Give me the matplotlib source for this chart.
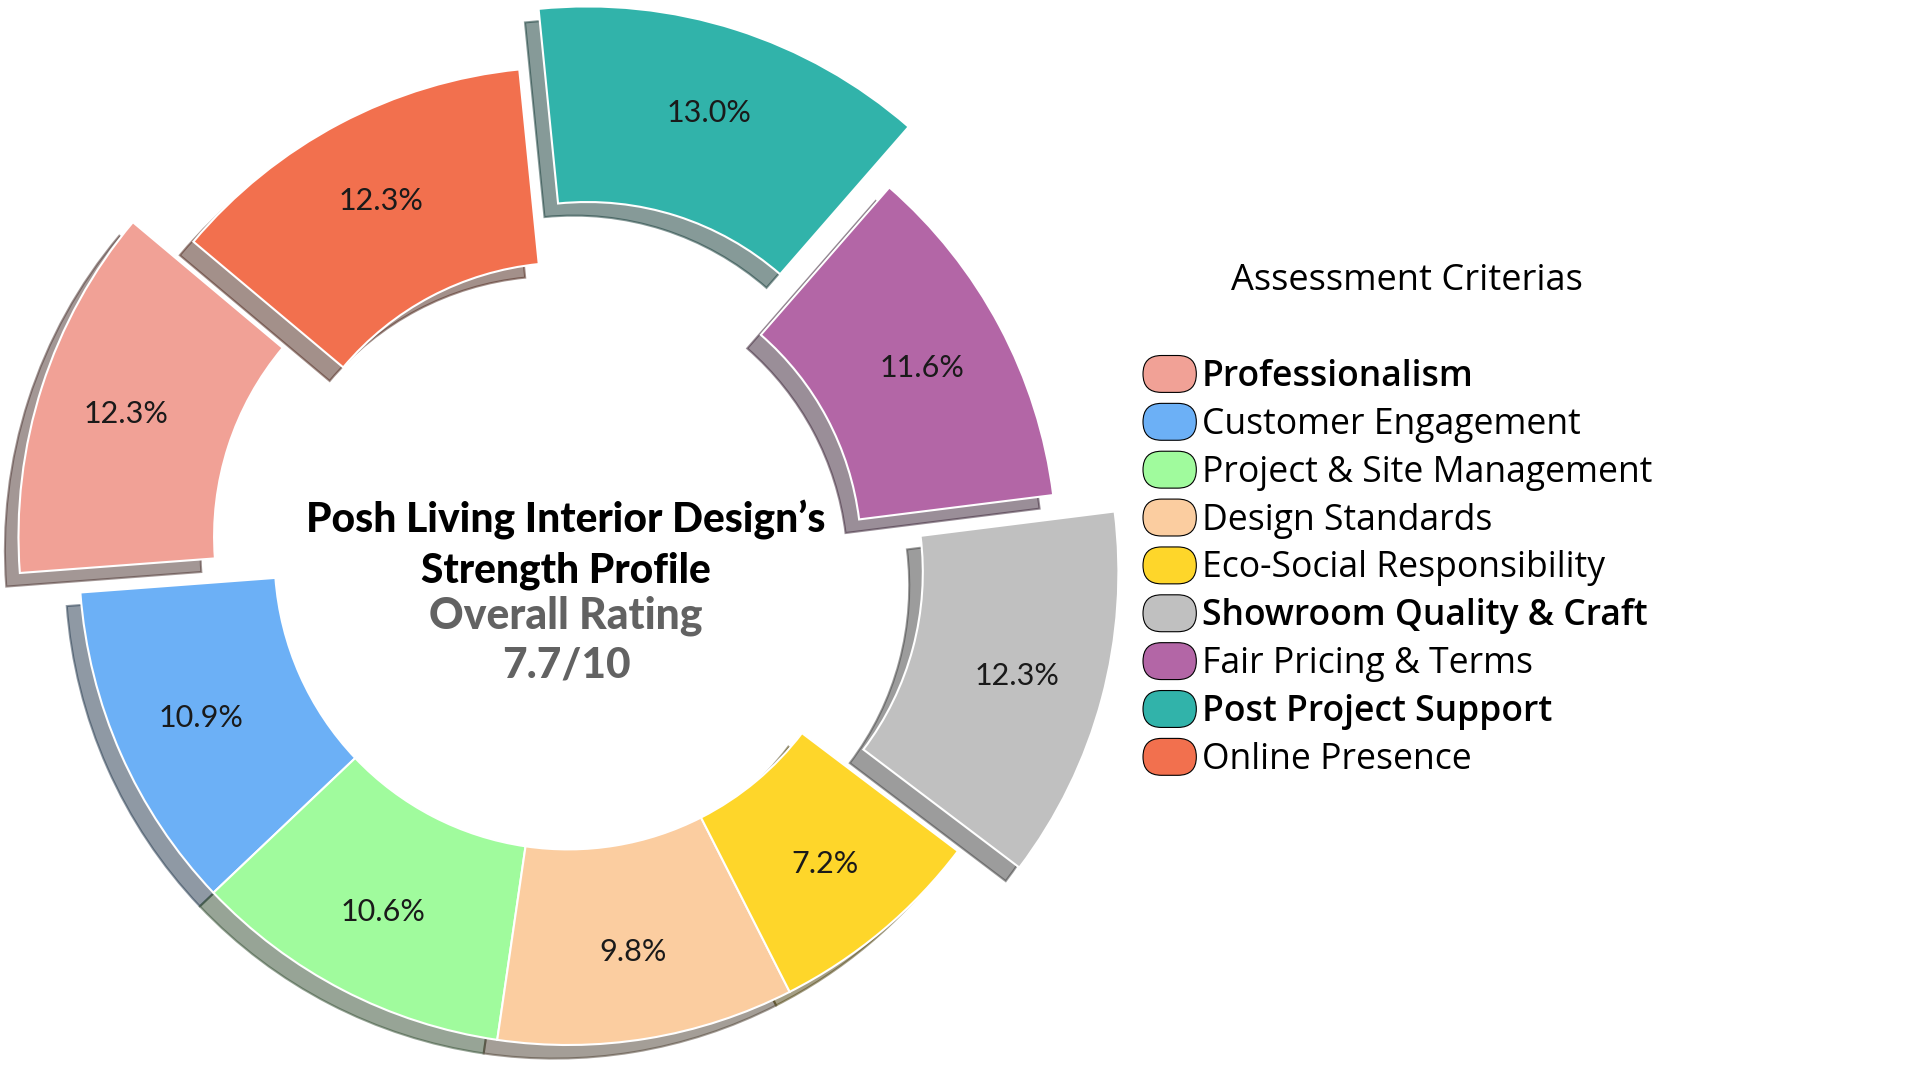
import matplotlib.pyplot as plt
from matplotlib.patches import Patch, FancyBboxPatch
from matplotlib.legend_handler import HandlerPatch

criteria = ['Professionalism', 'Customer Engagement', 'Project & Site Management',
            'Design Standards', 'Eco-Social Responsibility', 'Showroom Quality & Craft',
            'Fair Pricing & Terms', 'Post Project Support', 'Online Presence']
shares = [12.3, 10.9, 10.6, 9.8, 7.2, 12.3, 11.6, 13.0, 12.3]
colors = ['#F1A196', '#6CB0F6', '#A0FB9D', '#FBCDA0', '#FED62A',
          '#C0C0C0', '#B366A6', '#31B3AA', '#F2704E']
explode = [0.13, 0, 0, 0, 0, 0.13, 0, 0.13, 0]
bold_items = ['Professionalism', 'Showroom Quality & Craft', 'Post Project Support']
centre_lines = ['Posh Living Interior Design\u2019s', 'Strength Profile', 'Overall Rating', '7.7/10']
legend_title = 'Assessment Criterias'

W, H = 1920, 1080
cx, cy, R = 568, 556, 489     # pie centre and radius in pixels (from top-left)


def stadium(legend, orig_handle, xdescent, ydescent, width, height, fontsize):
    return FancyBboxPatch((-xdescent, -ydescent), width, height,
                          boxstyle='round,pad=0,rounding_size=%f' % (height / 2))


fig = plt.figure(figsize=(W / 100, H / 100), dpi=100)
ax = fig.add_axes([0, 0, 1, 1])

ax.pie(shares, colors=colors, explode=explode, startangle=140, counterclock=True,
       shadow=True, autopct='%1.1f%%', pctdistance=0.82,
       wedgeprops=dict(width=0.4, edgecolor='white', linewidth=1.5),
       textprops=dict(fontsize=22, family='Lato', color='#1a1a1a'))

ax.set_xlim(-cx / R, (W - cx) / R)
ax.set_ylim(-(H - cy) / R, cy / R)
ax.set_aspect('equal')
ax.axis('off')

# centre text
fig.text(566 / W, 1 - 533 / H, centre_lines[0], ha='center', va='baseline',
         fontsize=29.3, family='Lato', weight='black', color='black')
fig.text(566 / W, 1 - 582 / H, centre_lines[1], ha='center', va='baseline',
         fontsize=29.3, family='Lato', weight='black', color='black')
fig.text(566 / W, 1 - 628 / H, centre_lines[2], ha='center', va='baseline',
         fontsize=30.8, family='Lato', weight='black', color='#626262')
fig.text(566 / W, 1 - 677 / H, centre_lines[3], ha='center', va='baseline',
         fontsize=30.5, family='Lato', weight='black', color='#626262')

# legend
handles = [Patch(facecolor=c, edgecolor='black', linewidth=0.8) for c in colors]
leg = ax.legend(handles, criteria, loc='upper left',
                bbox_to_anchor=(1143 / W, 1 - 355.5 / H), bbox_transform=fig.transFigure,
                frameon=False, borderpad=0, borderaxespad=0,
                handlelength=1.5, handleheight=1.22, handletextpad=0.15,
                labelspacing=0.237, prop={'family': 'Open Sans', 'size': 25.6},
                handler_map={Patch: HandlerPatch(patch_func=stadium)})
for t in leg.get_texts():
    if t.get_text() in bold_items:
        t.set_fontweight('semibold')

fig.text(1407 / W, 1 - 281 / H, legend_title, ha='center', va='center',
         fontsize=26, family='Open Sans')

fig.savefig('out.png', dpi=100)
